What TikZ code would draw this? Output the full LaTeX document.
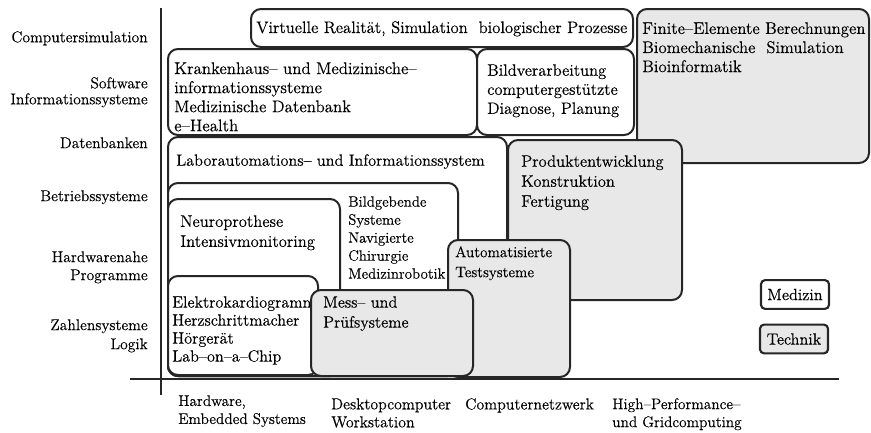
\documentclass[tikz,border=0pt]{standalone}
\usepackage{fontspec}
\setmainfont{Latin Modern Roman}[FakeBold=0.35]
\begin{document}
\begin{tikzpicture}[x=0.75pt,y=-0.75pt,
  box/.style={line width=1.5pt, rounded corners=7.5pt, draw=black!85},
  med/.style={box, fill=white},
  tec/.style={box, fill=black!9},
  legend/.style={box, line width=1.6pt, rounded corners=3pt, inner sep=0pt,
    minimum width=51pt, minimum height=21.5pt, font=\fontsize{12.2}{14}\selectfont},
  txt/.style={inner sep=0pt, anchor=north west, align=left, font=\fontsize{12.2}{14.3}\selectfont},
  ylab/.style={inner sep=0pt, anchor=north east, align=right, font=\fontsize{11.7}{12.5}\selectfont},
  xlab/.style={inner sep=0pt, anchor=north west, align=left, font=\fontsize{11.5}{13.5}\selectfont},
  axis/.style={line width=1.6pt, draw=black!85}]
\useasboundingbox (0,0) rectangle (871,432);

% medical application areas (white)
\draw[med] (168,137) rectangle (507,376);
\node[txt] (labor) at (176,154) {Laborautomations– und Informationssystem};
\draw[med] (168,183) rectangle (458,376);
\node[txt, font=\fontsize{11.2}{13.5}\selectfont] (bild) at (348,196) {Bildgebende\\Systeme\\Navigierte\\Chirurgie\\Medizinrobotik};
\draw[med] (168,199) rectangle (340,376);
\node[txt, font=\fontsize{12.5}{15}\selectfont] (neuro) at (180,215) {Neuroprothese\\Intensivmonitoring};
\draw[med] (168,276) rectangle (318,375);
\node[txt, font=\fontsize{12.2}{13.5}\selectfont] (ekg) at (172,296) {Elektrokardiogramm\\Herzschrittmacher\\Hörgerät\\Lab–on–a–Chip};
\draw[med] (168,49) rectangle (477,135);
\node[txt, font=\fontsize{12.7}{14.3}\selectfont] (kh) at (174,62) {Krankenhaus– und Medizinische–\\informationssysteme\\Medizinische Datenbank\\e–Health};
\draw[med] (477,49) rectangle (634,135);
\node[txt, font=\fontsize{12.4}{14.3}\selectfont] (bv) at (487,64) {Bildverarbeitung\\computergestützte\\Diagnose, Planung};
\draw[med] (251,9) rectangle (633,47);
\node[txt, font=\fontsize{12.5}{14.3}\selectfont] (vr) at (256,21) {Virtuelle Realität, Simulation\ \ biologischer Prozesse};

% technical application areas (grey)
\draw[tec] (637,9) rectangle (869,163);
\node[txt, font=\fontsize{12.6}{14.3}\selectfont] (fem) at (642,22) {Finite–Elemente Berechnungen\\Biomechanische\ \ Simulation\\Bioinformatik};
\draw[tec] (508,140) rectangle (682,300);
\node[txt, font=\fontsize{12.4}{15}\selectfont] (prod) at (521,155) {Produktentwicklung\\Konstruktion\\Fertigung};
\draw[tec] (448,240) rectangle (570,377);
\node[txt, font=\fontsize{11.4}{15}\selectfont] (test) at (455,246) {Automatisierte\\Testsysteme};
\draw[tec] (311,290) rectangle (473,376);
\node[txt, font=\fontsize{12.2}{15}\selectfont] (mess) at (323,296) {Mess– und\\Prüfsysteme};

% legend
\node[legend, fill=white] (lmed) at (795,294.5) {Medizin};
\node[legend, fill=black!9] (ltec) at (794,339) {Technik};

% axes
\coordinate (ytop) at (161,8);
\coordinate (ybot) at (161,395);
\coordinate (xl) at (130,379);
\coordinate (xr) at (839,379);
\draw[axis] (ytop) -- (ybot);
\draw[axis] (xl) -- (xr);

% vertical axis labels
\node[ylab] (y1) at (148,31) {Computersimulation};
\node[ylab, font=\fontsize{11.7}{12}\selectfont] (y2) at (148,77) {Software\\Informationssysteme};
\node[ylab] (y3) at (148,137) {Datenbanken};
\node[ylab] (y4) at (148,190) {Betriebssysteme};
\node[ylab, font=\fontsize{11.7}{13.5}\selectfont] (y5) at (148,251) {Hardwarenahe\\Programme};
\node[ylab, font=\fontsize{11.7}{14.3}\selectfont] (y6) at (148,319) {Zahlensysteme\\Logik};

% horizontal axis labels
\node[xlab] (x1) at (178,395) {Hardware,\\Embedded Systems};
\node[xlab, font=\fontsize{11.9}{13.5}\selectfont] (x2) at (331,398) {Desktopcomputer\\Workstation};
\node[xlab, font=\fontsize{11.9}{13.5}\selectfont] (x3) at (465,398) {Computernetzwerk};
\node[xlab] (x4) at (612,398) {High–Performance–\\und Gridcomputing};
\end{tikzpicture}
\end{document}
